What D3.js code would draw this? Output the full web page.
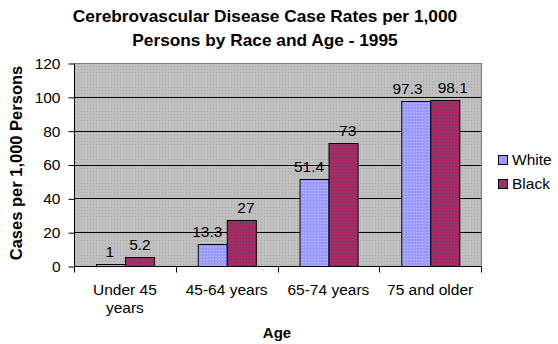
<!DOCTYPE html>
<html>
<head>
<meta charset="utf-8">
<script src="https://cdn.jsdelivr.net/npm/d3@7"></script>
<style>
  body { margin: 0; background: #fff; }
  text { font-family: "Liberation Sans", Arial, sans-serif; }
</style>
</head>
<body>
<svg width="558" height="344"></svg>
<script>
var ages = ['Under 45 years', '45-64 years', '65-74 years', '75 and older'],
    races = ['White', 'Black'],
    white = [1, 13.3, 51.4, 97.3],
    black = [5.2, 27, 73, 98.1],
    yTicks = [0, 20, 40, 60, 80, 100, 120];

var colors = { White: '#9999ff', Black: '#993366' },
    dots = { White: '#ccccff', Black: '#cc0066' };

var svg = d3.select('svg');
var defs = svg.append('defs');

// dotted fill for the plot area
var bg = defs.append('pattern')
    .attr('id', 'bg')
    .attr('width', 3).attr('height', 3)
    .attr('patternUnits', 'userSpaceOnUse');
bg.append('rect').attr('width', 3).attr('height', 3).attr('fill', '#c0c0c0');
bg.append('rect').attr('width', 1).attr('height', 1).attr('fill', '#a8a8a8');

races.forEach((r) => {
    var p = defs.append('pattern')
        .attr('id', 'fill-' + r)
        .attr('width', 3).attr('height', 3)
        .attr('patternUnits', 'userSpaceOnUse');
    p.append('rect').attr('width', 3).attr('height', 3).attr('fill', colors[r]);
    p.append('rect').attr('x', 1).attr('y', 1).attr('width', 1).attr('height', 1)
        .attr('fill', dots[r]);
});

var plotL = 74, plotR = 481, plotT = 63, plotB = 266;

var x = d3.scaleBand().domain(ages).range([plotL, plotR]);
var x1 = d3.scaleBand().domain(races).range([0, x.bandwidth()])
    .paddingInner(0).paddingOuter(0.75);
var y = d3.scaleLinear().domain([0, 120]).range([plotB, plotT]);

svg.append('rect')
    .attr('x', plotL + 0.5).attr('y', plotT + 0.5)
    .attr('width', plotR - plotL).attr('height', plotB - plotT)
    .attr('fill', 'url(#bg)')
    .attr('stroke', '#808080').attr('stroke-width', 1);

// gridlines
svg.append('g').selectAll('line')
    .data(yTicks.filter((d) => d > 0 && d < 120))
    .enter().append('line')
    .attr('x1', plotL).attr('x2', plotR)
    .attr('y1', (d) => Math.round(y(d)) + 0.5)
    .attr('y2', (d) => Math.round(y(d)) + 0.5)
    .attr('stroke', '#000');

// y axis
var yAxis = d3.axisLeft(y).tickValues(yTicks).tickSize(6).tickPadding(8);
var gy = svg.append('g')
    .attr('transform', 'translate(' + (plotL + 0.5) + ',0.5)')
    .call(yAxis);
gy.select('.domain').attr('d', 'M0,' + plotT + 'V' + plotB);
gy.selectAll('text')
    .attr('font-size', 15.5)
    .attr('font-family', '"Liberation Sans", Arial, sans-serif')
    .attr('fill', '#000');

// bars
var rows = ages.map((a, i) => ({ age: a, White: white[i], Black: black[i] }));
var groups = svg.append('g').selectAll('g')
    .data(rows)
    .enter().append('g')
    .attr('transform', (d) => 'translate(' + x(d.age) + ',0)');

groups.selectAll('rect')
    .data((d) => races.map((r) => ({ race: r, value: d[r] })))
    .enter().append('rect')
    .attr('x', (d) => Math.round(x1(d.race)) + 0.5)
    .attr('y', (d) => Math.round(y(d.value)) + 0.5)
    .attr('width', x1.bandwidth())
    .attr('height', (d) => Math.round(y(0)) - Math.round(y(d.value)))
    .attr('fill', (d) => 'url(#fill-' + d.race + ')')
    .attr('stroke', '#000');

// value labels, pushed apart sideways when a pair sits too close
groups.each(function () {
    var labels = d3.select(this).selectAll('text.val')
        .data((d) => races.map((r) => ({ race: r, value: d[r] })))
        .enter().append('text')
        .attr('class', 'val')
        .attr('x', (d) => x1(d.race) + x1.bandwidth() / 2)
        .attr('y', (d) => y(d.value) - 7)
        .attr('text-anchor', 'middle')
        .attr('font-size', 15.5)
        .text((d) => d.value);
    var n = labels.nodes(),
        w0 = n[0].getComputedTextLength(),
        w1 = n[1].getComputedTextLength(),
        need = (w0 + w1) / 2 + 15,
        have = x1.step();
    if (have < need) {
        var s = (need - have) / 2;
        d3.select(n[0]).attr('dx', -s);
        d3.select(n[1]).attr('dx', s);
    }
});

// x axis
var xAxis = d3.axisBottom(x).tickSize(0).tickFormat('');
var gx = svg.append('g')
    .attr('transform', 'translate(0,' + (plotB + 0.5) + ')')
    .call(xAxis);
gx.select('.domain').attr('d', 'M' + plotL + ',0H' + plotR);
gx.selectAll('line.sep')
    .data(d3.range(ages.length + 1))
    .enter().append('line')
    .attr('class', 'sep')
    .attr('x1', (i) => Math.round(plotL + i * x.step()) + 0.5)
    .attr('x2', (i) => Math.round(plotL + i * x.step()) + 0.5)
    .attr('y1', 0).attr('y2', 6)
    .attr('stroke', '#000');

var labelLines = [['Under 45', 'years'], ['45-64 years'], ['65-74 years'], ['75 and older']];
svg.append('g').selectAll('text')
    .data(ages)
    .enter().append('text')
    .attr('x', (d) => x(d) + x.bandwidth() / 2)
    .attr('y', 295)
    .attr('text-anchor', 'middle')
    .attr('font-size', 15.5)
    .each(function (d, i) {
        labelLines[i].forEach((l, j) => {
            d3.select(this).append('tspan')
                .attr('x', x(d) + x.bandwidth() / 2)
                .attr('dy', j ? 18 : 0)
                .text(l);
        });
    });

// titles
svg.append('text')
    .attr('x', 265).attr('y', 22)
    .attr('text-anchor', 'middle')
    .attr('font-size', 17.3).attr('font-weight', 'bold')
    .text('Cerebrovascular Disease Case Rates per 1,000');
svg.append('text')
    .attr('x', 265).attr('y', 46)
    .attr('text-anchor', 'middle')
    .attr('font-size', 17.3).attr('font-weight', 'bold')
    .text('Persons by Race and Age - 1995');

svg.append('text')
    .attr('transform', 'translate(22,163) rotate(-90)')
    .attr('text-anchor', 'middle')
    .attr('font-size', 16.5).attr('font-weight', 'bold')
    .text('Cases per 1,000 Persons');

svg.append('text')
    .attr('x', 277).attr('y', 338)
    .attr('text-anchor', 'middle')
    .attr('font-size', 15).attr('font-weight', 'bold')
    .text('Age');

// legend
var legend = svg.append('g').selectAll('g')
    .data(races)
    .enter().append('g')
    .attr('transform', (d, i) => 'translate(498,' + (155 + i * 24) + ')');
legend.append('rect')
    .attr('x', 0.5).attr('y', 0.5)
    .attr('width', 9).attr('height', 9)
    .attr('fill', (d) => colors[d])
    .attr('stroke', '#000');
legend.append('text')
    .attr('x', 14).attr('y', 9.5)
    .attr('font-size', 15.5)
    .text((d) => d);
</script>
</body>
</html>
